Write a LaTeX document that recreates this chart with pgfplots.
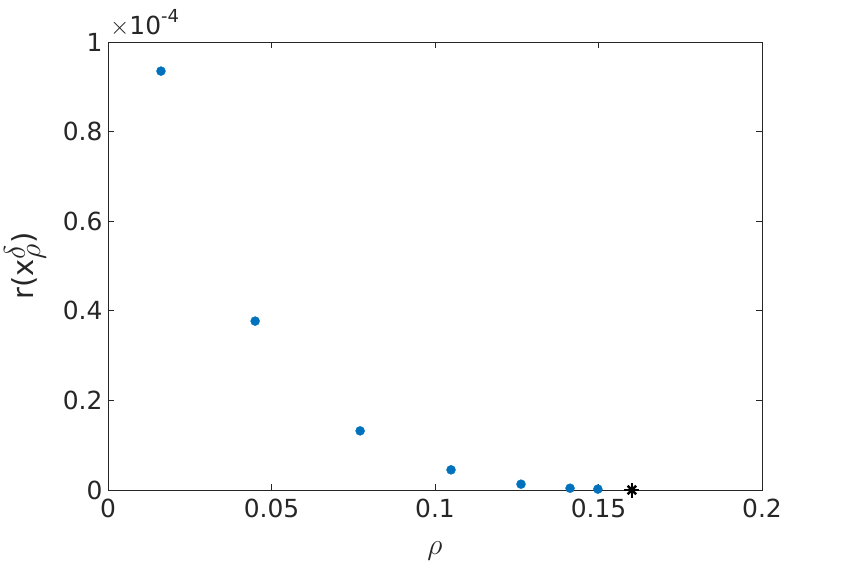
\documentclass[border=0pt]{standalone}
\usepackage{pgfplots}
\pgfplotsset{compat=1.18}
\usepackage{fontspec}
\setmainfont{DejaVu Sans}
\definecolor{mblue}{RGB}{0,114,189}
\definecolor{mgray}{RGB}{38,38,38}
\begin{document}
\begin{tikzpicture}
\useasboundingbox (-108bp,-80bp) rectangle (734bp,490bp);
\begin{axis}[
  at={(0,0)}, anchor=south west,
  scale only axis, width=654bp, height=448bp,
  xmin=0, xmax=0.2, ymin=0, ymax=1,
  xtick={0,0.05,0.1,0.15,0.2},
  xticklabels={0,0.05,0.1,0.15,0.2},
  ytick={0,0.2,0.4,0.6,0.8,1},
  yticklabels={0,0.2,0.4,0.6,0.8,1},
  tick align=inside, major tick length=6bp,
  axis line style={mgray, line width=0.6bp},
  tick style={mgray, line width=0.6bp},
  ticklabel style={font=\fontsize{25}{30}\selectfont, text=mgray},
  xticklabel style={yshift=-5bp},
  yticklabel style={xshift=-2bp},
  /pgf/number format/assume math mode=true,
  xlabel={\scalebox{1.2}{$\rho$}}, xlabel style={font=\fontsize{24.88}{30}\selectfont, text=mgray, at={(0.5,0)}, anchor=base, yshift=-64bp},
  ylabel={r(x$^{\scalebox{1.45}{$\scriptstyle\delta$}}_{\scalebox{1.45}{$\scriptstyle\rho$}}$)}, ylabel style={font=\fontsize{29}{34}\selectfont, text=mgray, at={(0,0.5)}, anchor=center, yshift=83bp},
  clip=false,
]
\addplot[only marks, mark=*, mark size=4.5bp, mblue, mark options={draw=mblue, fill=mblue}] coordinates {
(0.0162,0.935) (0.045,0.377) (0.0771,0.132) (0.1049,0.045) (0.1263,0.013) (0.1413,0.004) (0.1498,0.002)
};
\addplot[only marks, mark=+, mark size=7.5bp, black, line width=2.4bp] coordinates {(0.1602,0)};
\addplot[only marks, mark=x, mark size=6bp, black, line width=2.4bp] coordinates {(0.1602,0)};
\node[anchor=base west, font=\fontsize{25}{30}\selectfont, text=mgray, inner sep=0pt] at (rel axis cs:0,1) [yshift=7bp, xshift=2bp] {$\times$10\raisebox{0.5em}{\fontsize{18}{20}\selectfont -4}};
\end{axis}
\end{tikzpicture}
\end{document}
